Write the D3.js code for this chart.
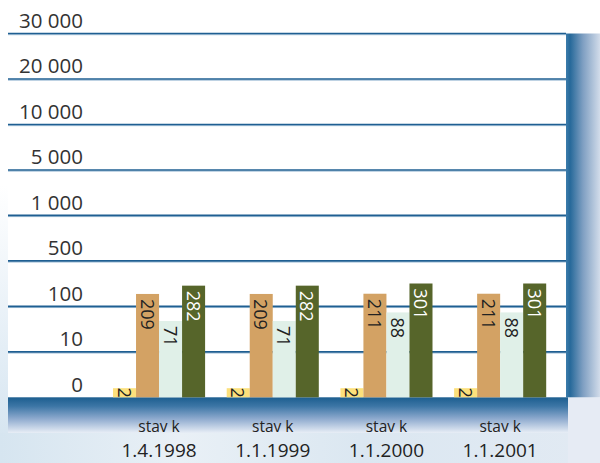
<!DOCTYPE html>
<html><head><meta charset="utf-8">
<script src="https://cdn.jsdelivr.net/npm/d3@7"></script>
<style>html,body{margin:0;padding:0;background:#fff;}svg{display:block;}</style>
</head><body>
<script>
const categories = ["1.4.1998", "1.1.1999", "1.1.2000", "1.1.2001"];
const categoryPrefix = "stav k";
const seriesA = [2, 2, 2, 2];
const seriesB = [209, 209, 211, 211];
const seriesC = [71, 71, 88, 88];
const seriesD = [282, 282, 301, 301];
const seriesNames = ["a", "b", "c", "d"];
const seriesColors = ["#fce07c", "#d3a264", "#e0f0e8", "#56652a"];
const labelColors = ["#222", "#222", "#222", "#fff"];
const tickValues = [0, 10, 100, 500, 1000, 5000, 10000, 20000, 30000];
const tickLabels = ["0", "10", "100", "500", "1 000", "5 000", "10 000", "20 000", "30 000"];

const W = 600, H = 463;
const plotLeft = 8, plotRight = 566, yBottom = 397.3, yTop = 33.5;
const svg = d3.select("body").append("svg").attr("width", W).attr("height", H);
const defs = svg.append("defs");

// backgrounds
const gl = defs.append("linearGradient").attr("id","leftStrip").attr("x1",0).attr("y1",0).attr("x2",0).attr("y2",1);
gl.append("stop").attr("offset",0).attr("stop-color","#ffffff");
gl.append("stop").attr("offset",0.4).attr("stop-color","#ffffff");
gl.append("stop").attr("offset",0.75).attr("stop-color","#e4eef6");
gl.append("stop").attr("offset",1).attr("stop-color","#d3e3ef");
svg.append("rect").attr("x",0).attr("y",0).attr("width",plotLeft).attr("height",H).attr("fill","url(#leftStrip)");

const gb = defs.append("linearGradient").attr("id","bottomBg").attr("x1",0).attr("y1",0).attr("x2",1).attr("y2",0);
gb.append("stop").attr("offset",0).attr("stop-color","#d6e5f0");
gb.append("stop").attr("offset",0.3).attr("stop-color","#e9f0f6");
gb.append("stop").attr("offset",0.6).attr("stop-color","#dbe7f1");
gb.append("stop").attr("offset",1).attr("stop-color","#e2eaf3");
svg.append("rect").attr("x",0).attr("y",433).attr("width",W).attr("height",H-433).attr("fill","url(#bottomBg)");
svg.append("rect").attr("x",568).attr("y",yBottom).attr("width",W-568).attr("height",H-yBottom).attr("fill","#e6ebf4");

// right panel
const gr = defs.append("linearGradient").attr("id","rightPanel").attr("x1",0).attr("y1",0).attr("x2",1).attr("y2",0);
gr.append("stop").attr("offset",0).attr("stop-color","#3c7cab");
gr.append("stop").attr("offset",0.12).attr("stop-color","#26699a");
gr.append("stop").attr("offset",0.5).attr("stop-color","#7f9fc2");
gr.append("stop").attr("offset",1).attr("stop-color","#d2dcea");
svg.append("rect").attr("x",plotRight).attr("y",yTop).attr("width",W-plotRight).attr("height",yBottom-yTop).attr("fill","url(#rightPanel)");

// bottom band
const gband = defs.append("linearGradient").attr("id","band").attr("x1",0).attr("y1",0).attr("x2",0).attr("y2",1);
gband.append("stop").attr("offset",0).attr("stop-color","#1c5e8f");
gband.append("stop").attr("offset",0.25).attr("stop-color","#3d76a6");
gband.append("stop").attr("offset",0.6).attr("stop-color","#8eaace");
gband.append("stop").attr("offset",1).attr("stop-color","#e8eef6");
svg.append("rect").attr("x",plotLeft).attr("y",yBottom).attr("width",568-plotLeft).attr("height",433-yBottom).attr("fill","url(#band)");

// scales
const tickPos = d3.scalePoint().domain(tickValues).range([yBottom, yTop]);
const y = d3.scaleLinear().domain(tickValues).range(tickValues.map(t => tickPos(t)));
const x0 = d3.scaleBand().domain(categories).range([102.2, 557]).paddingInner(0.19).paddingOuter(0.095);
const x1 = d3.scaleBand().domain(seriesNames).range([0, x0.bandwidth()]).padding(0);

// gridlines
const grid = svg.append("g");
tickValues.slice(1).forEach(t => {
  grid.append("line").attr("x1",plotLeft).attr("x2",plotRight).attr("y1",y(t)+1.2).attr("y2",y(t)+1.2)
    .attr("stroke","#9fbdd6").attr("stroke-width",1);
  grid.append("line").attr("x1",plotLeft).attr("x2",plotRight).attr("y1",y(t)).attr("y2",y(t))
    .attr("stroke","#1f5f92").attr("stroke-width",1.6);
});

// y labels
svg.append("g").selectAll("text").data(tickValues).join("text")
  .attr("x", 83).attr("y", d => y(d) - 5.5)
  .attr("text-anchor","end")
  .attr("font-family","'Open Sans', sans-serif").attr("font-size",20.5)
  .attr("fill","#333")
  .text((d,i) => tickLabels[i]);

// bars
const allSeries = [seriesA, seriesB, seriesC, seriesD];
const rows = [];
categories.forEach((c, ci) => allSeries.forEach((s, si) => rows.push({cat:c, si, v:s[ci]})));
const bars = svg.append("g");
bars.selectAll("rect").data(rows).join("rect")
  .attr("x", d => x0(d.cat) + x1(seriesNames[d.si]))
  .attr("y", d => y(d.v))
  .attr("width", x1.bandwidth())
  .attr("height", d => y(0) - y(d.v))
  .attr("fill", d => seriesColors[d.si]);

bars.selectAll("text").data(rows).join("text")
  .attr("transform", d => {
    const cx = x0(d.cat) + x1(seriesNames[d.si]) + x1.bandwidth()/2;
    const h = y(0) - y(d.v);
    const ty = h < 20 ? (y(d.v) + y(0)) / 2 : y(d.v) + 5;
    return `translate(${cx},${ty}) rotate(90)`;
  })
  .attr("text-anchor", d => (y(0) - y(d.v)) < 20 ? "middle" : "start")
  .attr("dominant-baseline","central")
  .attr("font-family","'Open Sans', sans-serif").attr("font-size",18)
  .attr("fill", d => labelColors[d.si])
  .text(d => d.v);

// category labels
const cl = svg.append("g");
cl.selectAll("text.pre").data(categories).join("text").attr("class","pre")
  .attr("x", d => x0(d) + x0.bandwidth()/2).attr("y", 431.5)
  .attr("text-anchor","middle")
  .attr("font-family","'Open Sans', sans-serif").attr("font-size",15.5)
  .attr("fill","#222").text(categoryPrefix);
cl.selectAll("text.date").data(categories).join("text").attr("class","date")
  .attr("x", d => x0(d) + x0.bandwidth()/2).attr("y", 457)
  .attr("text-anchor","middle")
  .attr("font-family","'Open Sans', sans-serif").attr("font-size",19)
  .attr("fill","#222").text(d => d);
</script>
</body></html>
